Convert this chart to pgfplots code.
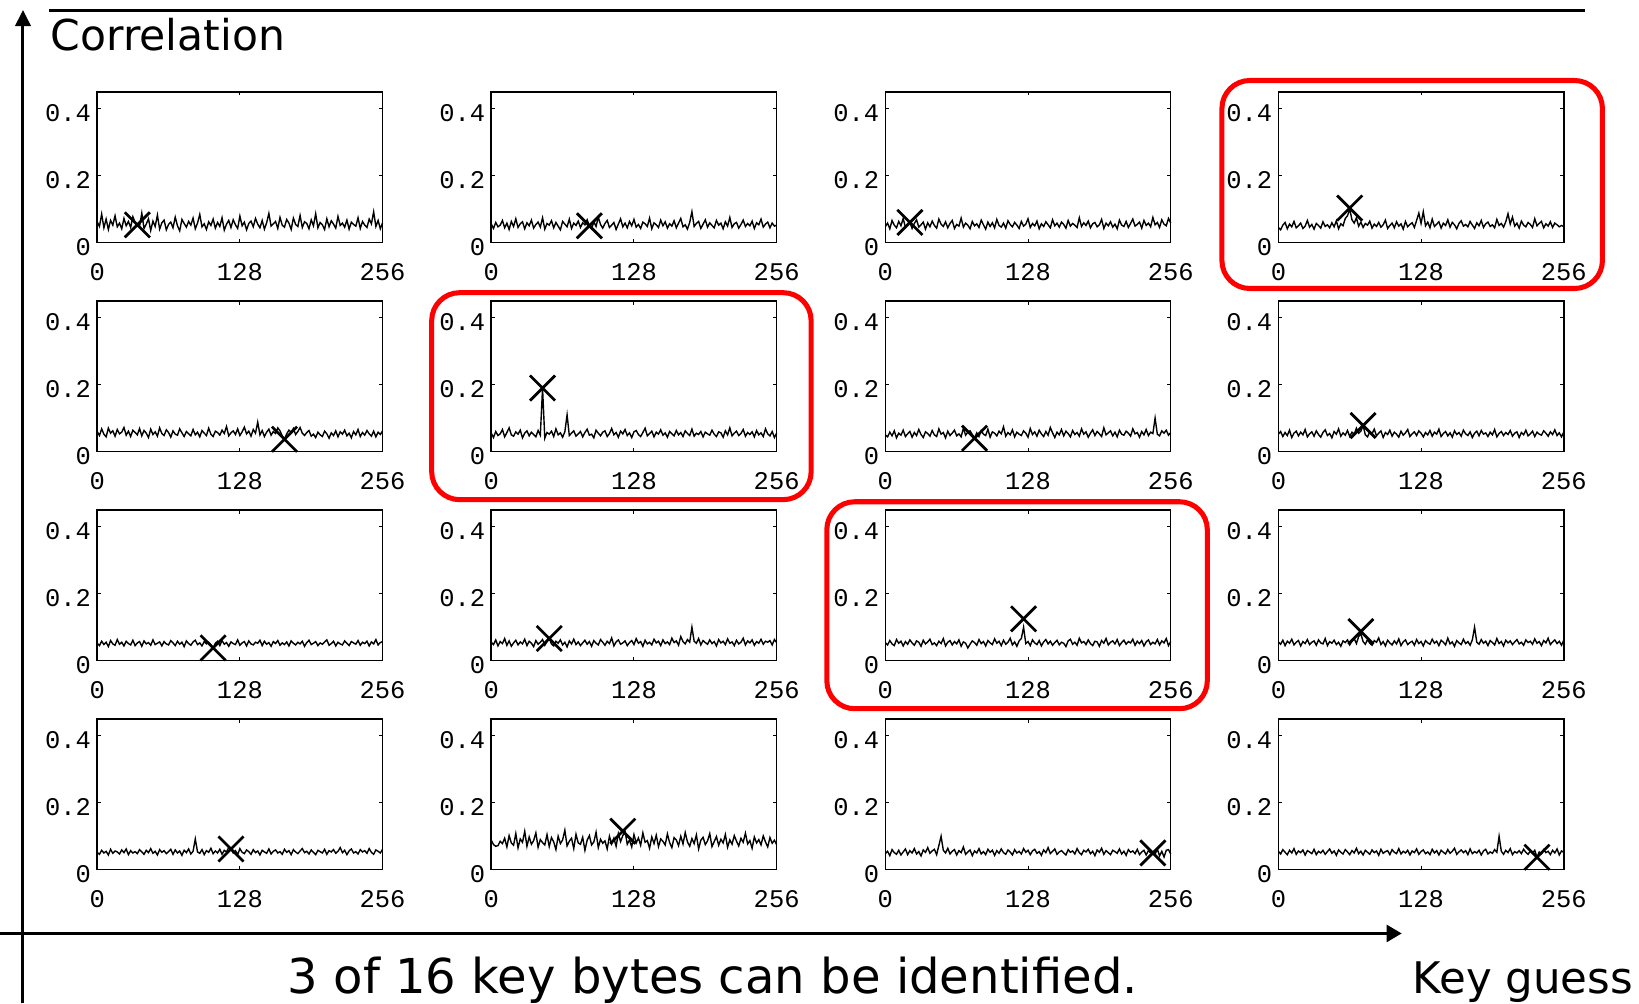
\documentclass[border=0pt]{standalone}
\usepackage{fontspec}
\setmainfont{DejaVu Sans}
\setmonofont{Liberation Mono}
\usepackage{pgfplots}
\pgfplotsset{compat=1.18}
\usetikzlibrary{arrows.meta}

% one small MATLAB-like panel: correlation vs key guess (0..256)
\pgfplotsset{
  panel/.style={
    scale only axis, width=81.9pt, height=43.2pt,
    anchor=south west, clip=false,
    xmin=0, xmax=256, ymin=0, ymax=0.45,
    xtick={0,128,256}, xticklabels={0,128,256},
    ytick={0,0.2,0.4}, yticklabels={{0\hspace{2.4pt}},0.2,0.4},
    tick align=inside, major tick length=1pt,
    tick style={black, line width=0.3pt},
    axis line style={line width=0.45pt},
    ticklabel style={font=\ttfamily\fontsize{7.3}{8}\selectfont},
    xticklabel style={yshift=-2.4pt},
    yticklabel style={xshift=1.75pt, yshift=-1.2pt},
  },
}
% #1,#2 = lower left corner of the box (px), #3 = values (1/1000), #4,#5 = marked key
\newcommand{\panel}[5]{%
  \begin{axis}[panel, at={({#1*0.3pt},{-#2*0.3pt})}]
    \addplot[black, line width=0.4pt] table[header=false, row sep=\\,
      x expr=\coordindex*2, y expr=\thisrowno{0}/1000] {#3};
    \addplot[black, only marks, mark=x, mark size=5.1pt,
      mark options={line width=0.78pt}] coordinates {(#4,#5)};
  \end{axis}}

\begin{document}
\begin{tikzpicture}
\begin{scope}[x=0.3pt, y=-0.3pt]
  \useasboundingbox (0,0) rectangle (1568,960);
  \draw[line width=0.86pt] (47,9.6) -- (1516,9.6);
  \draw[line width=0.86pt, -{Triangle[length=4.6pt,width=4.4pt]}] (22,960) -- (22,9.6);
  \draw[line width=0.86pt, -{Triangle[length=4.3pt,width=4.8pt]}] (0,893) -- (1341,893);
  \node[anchor=base west, inner sep=0, font=\fontsize{12.2}{14}\selectfont] at (48,48) {Correlation};
  \node[anchor=base, inner sep=0, font=\fontsize{13.8}{16}\selectfont] at (682,950) {3 of 16 key bytes can be identified.};
  \node[anchor=base west, inner sep=0, font=\fontsize{12.5}{14}\selectfont] at (1351,950) {Key guess};
\end{scope}

% row 1
\panel{93}{232}{
62\\48\\85\\44\\70\\39\\66\\52\\80\\47\\
58\\41\\72\\50\\63\\45\\77\\60\\53\\49\\
88\\42\\55\\71\\36\\64\\48\\82\\40\\59\\
67\\38\\54\\61\\44\\76\\50\\35\\69\\57\\
46\\63\\52\\73\\41\\58\\84\\47\\56\\39\\
62\\51\\70\\43\\60\\48\\74\\37\\55\\66\\
45\\68\\53\\42\\79\\50\\61\\38\\57\\64\\
47\\72\\55\\44\\66\\40\\59\\87\\49\\56\\
63\\42\\75\\52\\46\\69\\58\\39\\73\\54\\
48\\81\\45\\62\\57\\41\\68\\50\\86\\44\\
60\\53\\39\\71\\47\\65\\55\\43\\78\\51\\
58\\46\\67\\40\\61\\54\\49\\74\\42\\63\\
52\\45\\70\\56\\92\\48\\66\\41\\59\\}{36}{0.053}
\panel{470}{232}{
55\\42\\60\\47\\52\\66\\44\\58\\39\\63\\
48\\71\\45\\56\\62\\41\\59\\50\\67\\43\\
54\\61\\46\\74\\40\\57\\52\\65\\44\\60\\
49\\38\\63\\55\\47\\70\\42\\58\\51\\64\\
45\\59\\53\\68\\50\\41\\62\\48\\76\\54\\
43\\57\\66\\45\\52\\60\\39\\55\\71\\47\\
58\\44\\63\\50\\69\\46\\54\\42\\61\\56\\
48\\73\\41\\59\\53\\45\\67\\50\\62\\43\\
56\\49\\65\\44\\58\\72\\47\\53\\40\\60\\
92\\48\\57\\63\\42\\55\\68\\46\\59\\51\\
44\\66\\52\\58\\41\\62\\49\\75\\45\\56\\
60\\43\\54\\67\\48\\57\\50\\64\\42\\59\\
53\\70\\46\\55\\61\\44\\58\\49\\52\\}{88}{0.050}
\panel{847}{232}{
48\\58\\41\\66\\52\\44\\63\\50\\72\\45\\
55\\60\\42\\57\\68\\46\\53\\61\\40\\59\\
47\\64\\51\\43\\70\\55\\48\\62\\44\\57\\
66\\42\\54\\49\\73\\46\\58\\52\\41\\63\\
50\\56\\45\\67\\53\\40\\61\\48\\59\\44\\
69\\51\\46\\58\\43\\65\\54\\47\\60\\52\\
42\\63\\49\\55\\71\\45\\57\\50\\64\\41\\
56\\48\\62\\53\\44\\68\\50\\58\\46\\61\\
54\\43\\66\\49\\57\\52\\45\\74\\48\\59\\
51\\64\\44\\56\\60\\47\\53\\69\\42\\58\\
50\\62\\46\\55\\41\\67\\52\\48\\63\\45\\
57\\70\\49\\54\\61\\43\\66\\51\\58\\47\\
75\\53\\60\\45\\68\\55\\50\\72\\58\\}{22}{0.060}
\panel{1223}{232}{
45\\38\\52\\60\\41\\55\\47\\63\\44\\50\\
58\\42\\49\\66\\46\\54\\40\\57\\51\\43\\
62\\48\\53\\44\\59\\47\\65\\41\\56\\50\\
72\\80\\100\\68\\58\\74\\49\\61\\45\\57\\
52\\64\\43\\55\\48\\60\\46\\53\\67\\42\\
51\\58\\44\\62\\49\\56\\40\\63\\47\\54\\
59\\45\\66\\88\\57\\92\\50\\61\\44\\70\\
48\\55\\62\\43\\58\\51\\68\\46\\60\\53\\
41\\57\\65\\49\\54\\47\\63\\52\\42\\59\\
50\\66\\45\\56\\61\\48\\53\\44\\69\\51\\
57\\46\\62\\86\\55\\76\\49\\58\\43\\64\\
52\\47\\60\\54\\45\\71\\50\\57\\63\\44\\
56\\49\\62\\45\\58\\53\\47\\51\\48\\}{64}{0.103}
% row 2
\panel{93}{432}{
60\\48\\68\\52\\44\\70\\55\\62\\46\\66\\
53\\58\\72\\49\\61\\45\\64\\57\\50\\69\\
47\\63\\55\\42\\67\\51\\59\\46\\71\\54\\
48\\65\\57\\43\\62\\52\\49\\68\\56\\45\\
60\\53\\47\\66\\50\\58\\44\\63\\55\\48\\
70\\52\\45\\61\\57\\49\\64\\54\\75\\47\\
56\\62\\51\\68\\48\\59\\73\\53\\61\\46\\
66\\55\\88\\50\\63\\45\\58\\67\\49\\60\\
54\\71\\62\\47\\37\\53\\64\\58\\69\\51\\
60\\72\\55\\48\\57\\63\\46\\52\\42\\58\\
50\\45\\61\\53\\40\\56\\48\\62\\44\\59\\
52\\64\\47\\55\\41\\60\\50\\66\\45\\57\\
49\\63\\53\\46\\61\\44\\58\\51\\62\\}{168}{0.037}
\panel{470}{432}{
55\\42\\60\\48\\53\\66\\44\\57\\71\\50\\
46\\59\\52\\64\\41\\55\\62\\47\\58\\51\\
44\\63\\49\\190\\40\\57\\52\\61\\45\\68\\
50\\56\\43\\59\\110\\48\\55\\62\\46\\53\\
60\\44\\57\\67\\49\\52\\41\\64\\55\\47\\
58\\62\\45\\54\\69\\50\\57\\43\\61\\53\\
66\\48\\56\\42\\59\\63\\51\\45\\57\\70\\
47\\54\\61\\44\\58\\52\\65\\49\\56\\43\\
60\\53\\47\\63\\50\\57\\45\\62\\54\\48\\
67\\46\\55\\51\\60\\44\\58\\53\\49\\64\\
52\\45\\59\\56\\43\\62\\50\\71\\47\\55\\
61\\48\\54\\66\\46\\57\\51\\59\\44\\63\\
50\\56\\45\\68\\53\\47\\60\\42\\55\\}{46}{0.19}
\panel{847}{432}{
50\\44\\58\\47\\62\\41\\55\\49\\64\\45\\
53\\60\\43\\57\\48\\66\\51\\42\\59\\54\\
46\\63\\50\\45\\68\\52\\57\\41\\61\\48\\
55\\64\\47\\53\\44\\70\\49\\58\\62\\51\\
40\\56\\45\\63\\52\\48\\67\\43\\59\\55\\
47\\61\\53\\74\\46\\57\\50\\65\\44\\58\\
52\\48\\62\\55\\43\\69\\51\\59\\46\\64\\
53\\45\\60\\49\\72\\56\\42\\58\\50\\66\\
47\\61\\54\\44\\63\\51\\57\\46\\68\\52\\
59\\43\\55\\65\\48\\60\\53\\45\\71\\50\\
56\\62\\47\\58\\44\\64\\52\\49\\61\\55\\
46\\68\\53\\57\\43\\60\\50\\66\\48\\58\\
54\\100\\52\\47\\62\\55\\64\\49\\57\\}{80}{0.040}
\panel{1223}{432}{
52\\60\\45\\57\\48\\64\\42\\55\\61\\47\\
58\\50\\66\\44\\53\\59\\46\\62\\51\\43\\
57\\65\\48\\54\\41\\60\\52\\68\\46\\56\\
49\\63\\45\\58\\52\\70\\55\\61\\78\\50\\
44\\59\\53\\67\\47\\55\\62\\42\\57\\51\\
64\\46\\58\\52\\43\\61\\49\\56\\66\\45\\
53\\59\\48\\62\\55\\44\\57\\50\\63\\46\\
58\\52\\67\\45\\54\\60\\47\\56\\43\\62\\
51\\57\\46\\64\\53\\48\\59\\42\\55\\61\\
47\\63\\52\\56\\45\\58\\50\\66\\44\\54\\
60\\48\\57\\51\\63\\46\\55\\59\\42\\57\\
50\\64\\47\\53\\61\\45\\58\\52\\49\\62\\
55\\46\\59\\51\\65\\48\\56\\44\\58\\}{76}{0.078}
% row 3
\panel{93}{632}{
52\\45\\58\\48\\55\\42\\60\\50\\46\\63\\
49\\55\\44\\58\\51\\47\\61\\45\\53\\57\\
43\\59\\50\\54\\46\\62\\48\\52\\56\\44\\
57\\50\\47\\60\\53\\45\\58\\49\\55\\42\\
59\\51\\46\\56\\61\\48\\53\\44\\57\\50\\
55\\47\\38\\52\\58\\45\\60\\49\\54\\43\\
56\\51\\48\\62\\46\\53\\57\\44\\59\\50\\
47\\55\\52\\61\\45\\58\\49\\54\\43\\57\\
51\\60\\46\\53\\48\\56\\44\\59\\52\\47\\
55\\50\\58\\43\\54\\61\\48\\52\\57\\45\\
53\\49\\56\\62\\46\\51\\58\\44\\55\\50\\
47\\59\\52\\45\\57\\53\\49\\60\\46\\55\\
51\\58\\44\\56\\50\\63\\47\\54\\57\\}{104}{0.038}
\panel{470}{632}{
55\\48\\62\\44\\57\\51\\66\\46\\59\\43\\
53\\61\\47\\56\\50\\64\\45\\58\\52\\42\\
60\\49\\55\\63\\46\\57\\66\\50\\44\\58\\
52\\62\\47\\55\\41\\59\\50\\64\\48\\56\\
45\\53\\61\\49\\57\\43\\60\\52\\47\\63\\
55\\46\\58\\51\\68\\44\\56\\62\\49\\53\\
59\\45\\54\\60\\48\\66\\52\\57\\43\\61\\
50\\55\\47\\64\\53\\58\\45\\62\\51\\56\\
48\\67\\54\\59\\46\\72\\57\\50\\63\\55\\
100\\58\\52\\66\\47\\60\\54\\49\\62\\51\\
57\\44\\63\\53\\58\\48\\65\\52\\56\\45\\
61\\50\\55\\67\\47\\59\\53\\62\\46\\57\\
52\\64\\49\\58\\55\\60\\47\\63\\54\\}{52}{0.066}
\panel{847}{632}{
54\\47\\60\\50\\45\\63\\52\\58\\44\\57\\
49\\62\\53\\46\\59\\55\\43\\61\\50\\56\\
64\\48\\53\\45\\58\\51\\66\\44\\55\\60\\
47\\57\\50\\62\\43\\56\\52\\38\\49\\59\\
54\\46\\63\\51\\57\\44\\60\\53\\48\\65\\
52\\58\\45\\61\\49\\55\\67\\47\\56\\43\\
59\\66\\100\\51\\57\\45\\62\\53\\48\\60\\
44\\56\\63\\50\\58\\46\\54\\61\\47\\55\\
52\\42\\59\\64\\49\\55\\46\\67\\53\\57\\
48\\62\\51\\45\\58\\56\\43\\60\\52\\66\\
47\\55\\59\\50\\63\\45\\54\\61\\49\\57\\
53\\64\\46\\58\\51\\60\\44\\56\\62\\48\\
55\\50\\63\\47\\59\\53\\66\\45\\57\\}{124}{0.125}
\panel{1223}{632}{
56\\49\\61\\45\\58\\52\\64\\47\\55\\60\\
44\\57\\51\\63\\48\\55\\59\\46\\62\\53\\
50\\66\\45\\57\\52\\61\\48\\55\\43\\59\\
54\\62\\47\\58\\66\\51\\72\\80\\57\\49\\
63\\52\\46\\60\\55\\68\\48\\57\\44\\61\\
53\\47\\59\\50\\65\\45\\56\\62\\48\\54\\
58\\46\\63\\51\\57\\44\\60\\53\\49\\64\\
52\\58\\45\\61\\55\\47\\67\\50\\56\\43\\
60\\53\\48\\64\\51\\57\\46\\62\\100\\55\\
49\\63\\52\\58\\45\\60\\54\\47\\66\\51\\
57\\44\\61\\53\\59\\48\\56\\63\\50\\55\\
46\\62\\54\\58\\49\\65\\52\\57\\45\\60\\
53\\67\\48\\56\\62\\51\\58\\46\\61\\}{74}{0.087}
% row 4
\panel{93}{832}{
52\\46\\58\\50\\55\\44\\61\\49\\56\\53\\
47\\59\\51\\62\\45\\57\\50\\54\\48\\60\\
53\\46\\58\\51\\63\\49\\55\\44\\60\\52\\
57\\48\\54\\61\\46\\59\\50\\56\\43\\58\\
51\\62\\47\\55\\92\\53\\49\\60\\45\\57\\
52\\64\\48\\56\\50\\61\\46\\58\\53\\67\\
62\\50\\57\\45\\63\\52\\48\\59\\54\\46\\
60\\51\\56\\44\\58\\53\\49\\62\\47\\55\\
59\\50\\54\\46\\61\\52\\57\\45\\60\\53\\
48\\56\\63\\51\\55\\47\\59\\52\\45\\58\\
54\\50\\61\\46\\57\\53\\60\\49\\55\\66\\
51\\58\\45\\56\\62\\50\\54\\47\\60\\53\\
57\\49\\63\\52\\46\\59\\55\\50\\61\\}{120}{0.062}
\panel{470}{832}{
88\\75\\70\\72\\85\\78\\94\\68\\102\\80\\
73\\108\\65\\92\\82\\115\\70\\98\\76\\87\\
110\\67\\90\\81\\74\\105\\69\\96\\83\\60\\
100\\78\\89\\118\\71\\85\\94\\63\\106\\80\\
76\\97\\58\\88\\102\\74\\83\\112\\66\\91\\
79\\86\\62\\100\\77\\94\\70\\108\\84\\102\\
115\\76\\89\\68\\105\\80\\95\\73\\110\\82\\
87\\64\\98\\78\\103\\69\\92\\85\\74\\107\\
81\\66\\96\\89\\72\\100\\77\\111\\83\\70\\
93\\78\\104\\62\\88\\97\\75\\86\\108\\69\\
84\\99\\73\\91\\80\\105\\67\\89\\76\\102\\
85\\71\\94\\82\\109\\77\\87\\64\\98\\80\\
90\\74\\101\\83\\68\\96\\79\\88\\75\\}{118}{0.115}
\panel{847}{832}{
48\\55\\42\\60\\51\\46\\58\\44\\53\\62\\
45\\57\\50\\63\\47\\54\\41\\59\\52\\66\\
49\\56\\61\\45\\72\\100\\58\\50\\64\\47\\
55\\60\\44\\57\\51\\68\\46\\53\\59\\42\\
56\\50\\63\\47\\54\\45\\61\\52\\58\\43\\
57\\49\\62\\51\\46\\59\\53\\44\\60\\50\\
55\\47\\63\\52\\58\\45\\56\\61\\49\\54\\
43\\59\\51\\66\\48\\55\\62\\46\\53\\57\\
50\\44\\60\\52\\56\\47\\63\\51\\45\\58\\
53\\61\\48\\55\\42\\59\\52\\64\\46\\57\\
51\\45\\58\\54\\49\\62\\47\\55\\43\\60\\
52\\56\\48\\61\\45\\53\\58\\44\\57\\50\\
50\\46\\62\\41\\55\\38\\58\\60\\47\\}{240}{0.050}
\panel{1223}{832}{
55\\47\\60\\52\\45\\58\\50\\63\\46\\56\\
51\\59\\44\\57\\53\\48\\61\\45\\55\\50\\
58\\46\\54\\62\\49\\56\\43\\59\\52\\47\\
60\\53\\45\\57\\50\\64\\48\\55\\44\\58\\
52\\46\\59\\51\\56\\43\\61\\49\\54\\57\\
45\\60\\52\\48\\63\\47\\55\\50\\58\\44\\
56\\51\\62\\46\\54\\59\\48\\53\\45\\61\\
50\\57\\44\\58\\52\\47\\60\\49\\55\\64\\
46\\53\\59\\51\\57\\45\\62\\48\\54\\50\\
58\\44\\56\\61\\47\\53\\49\\60\\52\\100\\
55\\46\\58\\51\\63\\45\\54\\50\\57\\48\\
61\\52\\46\\56\\49\\58\\37\\53\\47\\60\\
51\\55\\45\\58\\50\\62\\44\\56\\52\\}{232}{0.037}

\begin{scope}[x=0.3pt, y=-0.3pt]
  \draw[red, line width=1.45pt, rounded corners=8pt] (1169,77) rectangle (1533,276);
  \draw[red, line width=1.45pt, rounded corners=8pt] (413,280) rectangle (776,478);
  \draw[red, line width=1.45pt, rounded corners=8pt] (791,480) rectangle (1155,678);
\end{scope}
\end{tikzpicture}
\end{document}
